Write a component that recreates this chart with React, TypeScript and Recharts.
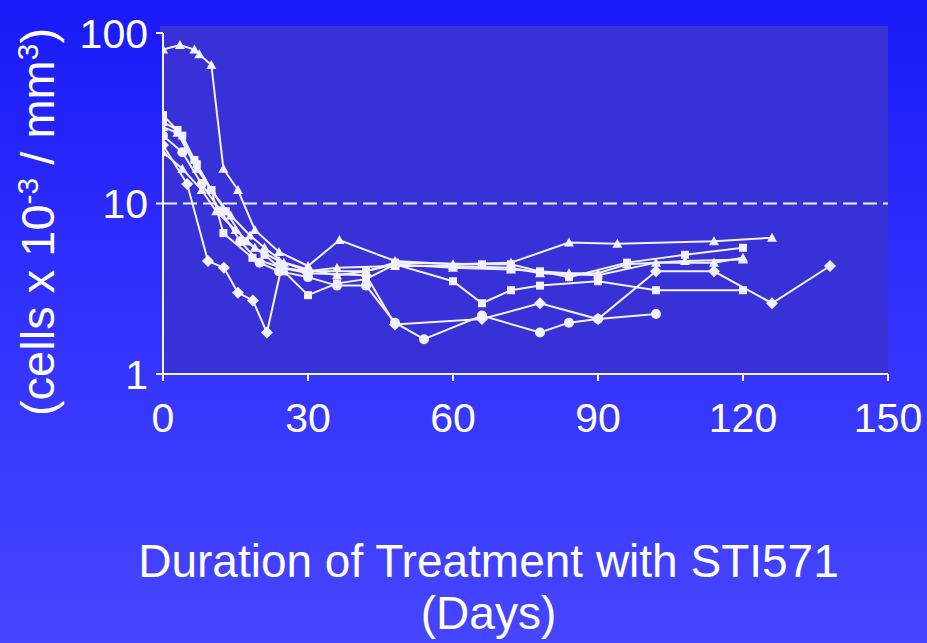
import React from 'react';
import { LineChart, Line, XAxis, YAxis, CartesianGrid, ReferenceLine } from 'recharts';

// [day, cells x 10^-3 / mm3] per patient
const patientA = [[0, 80], [3.5, 85], [6.5, 80], [7.5, 75], [10, 65], [12.5, 16], [15.5, 12], [19, 7], [24, 5.2], [30, 4.3], [36.5, 6.1], [48, 4.6], [60, 4.4], [72, 4.5], [84, 5.9], [94, 5.8], [114, 6], [126, 6.3]];
const patientB = [[0, 33], [4, 25], [6.5, 18], [10, 12], [12.5, 6.7], [18.5, 4.8], [24.5, 4.2], [30, 4.0], [42, 4.0], [48, 4.5], [66, 4.4], [72, 4.4], [78, 4.0], [84, 3.7], [96, 4.5], [108, 5.0], [120, 5.5]];
const patientC = [[0, 28], [3, 26], [7, 16], [10, 12], [14, 8.5], [18, 6.5], [21, 5.5], [25, 4.5], [30, 4.0], [36, 4.2], [48, 4.3], [60, 4.3], [72, 4.2], [78, 3.9], [90, 3.8], [102, 4.5], [114, 4.5], [120, 4.8]];
const patientD = [[0, 22], [5, 13], [9.3, 4.6], [12.6, 4.2], [15.5, 3.0], [18.6, 2.7], [21.5, 1.75], [24.5, 4.2], [30, 3.9], [42, 3.8], [48, 1.95], [66, 2.1], [78, 2.6], [90, 2.1], [102, 4.0], [114, 4.0], [126, 2.6], [138, 4.3]];
const patientE = [[0, 25], [4, 20], [8, 13], [12, 9], [16, 6], [20, 4.5], [24, 4.0], [30, 3.7], [36, 3.3], [42, 3.3], [48, 2.0], [54, 1.6], [66, 2.2], [78, 1.75], [84, 2.0], [90, 2.1], [102, 2.25]];
const patientF = [[0, 30], [3, 27], [7, 17], [10, 12], [13, 9], [17, 6], [21, 5], [25, 4.0], [30, 2.9], [36, 3.4], [42, 3.6], [48, 4.4], [60, 3.5], [66, 2.6], [72, 3.1], [78, 3.3], [90, 3.5], [102, 3.1], [120, 3.1]];
const patientG = [[0, 20], [4, 16], [8, 12], [11, 9], [15, 7], [19, 5.5], [24, 4.6], [30, 4.1], [36, 3.8], [42, 4.0], [48, 4.4], [60, 4.2], [72, 4.1], [84, 3.9], [90, 3.9], [96, 4.4], [108, 4.6], [120, 4.7]];

const xTicks = [0, 30, 60, 90, 120, 150];
const yTicks = [1, 10, 100];
const cutoff = 10;

const toPoints = (arr: number[][]) => arr.map(([day, count]) => ({ day, count }));

const series = [
  { name: 'A', data: patientA, shape: 'triangle' },
  { name: 'B', data: patientB, shape: 'square' },
  { name: 'C', data: patientC, shape: 'triangle' },
  { name: 'D', data: patientD, shape: 'diamond' },
  { name: 'E', data: patientE, shape: 'circle' },
  { name: 'F', data: patientF, shape: 'square' },
  { name: 'G', data: patientG, shape: 'triangle' },
];

const WHITE = '#f2f2ff';

const makeDot = (shape: string) => (props: any) => {
  const { cx, cy, index } = props;
  if (cx == null || cy == null) return <g key={index} />;
  switch (shape) {
    case 'triangle':
      return <polygon key={index} points={`${cx},${cy - 5} ${cx + 5},${cy + 4} ${cx - 5},${cy + 4}`} fill={WHITE} />;
    case 'square':
      return <rect key={index} x={cx - 4} y={cy - 4} width={8} height={8} fill={WHITE} />;
    case 'diamond':
      return <polygon key={index} points={`${cx},${cy - 6} ${cx + 6},${cy} ${cx},${cy + 6} ${cx - 6},${cy}`} fill={WHITE} />;
    default:
      return <circle key={index} cx={cx} cy={cy} r={5} fill={WHITE} />;
  }
};

const font = '"Liberation Sans", Arial, sans-serif';

export default function App() {
  return (
    <div
      style={{
        position: 'fixed',
        left: 0,
        top: 0,
        width: 927,
        height: 643,
        background: 'linear-gradient(180deg, #1a1af8 0%, #3030fc 45%, #4646ff 100%)',
        fontFamily: font,
        overflow: 'hidden',
      }}
    >
      <div style={{ position: 'absolute', left: 160, top: 26, width: 728, height: 10, background: '#3831d8' }} />
      <LineChart width={927} height={643} margin={{ top: 33, right: 39, left: 0, bottom: 0 }} style={{ position: 'absolute', left: 0, top: 0 }}>
        <CartesianGrid fill="#3831d8" horizontal={false} vertical={false} />
        <XAxis
          type="number"
          dataKey="day"
          domain={[0, 150]}
          ticks={xTicks}
          height={269}
          stroke={WHITE}
          strokeWidth={2}
          tickSize={7}
          tickMargin={22}
          tick={{ fill: '#ffffff', fontSize: 41, fontFamily: font }}
          allowDataOverflow
        />
        <YAxis
          type="number"
          dataKey="count"
          scale="log"
          domain={[1, 100]}
          ticks={yTicks}
          width={163}
          stroke={WHITE}
          strokeWidth={2}
          tickSize={7}
          tickMargin={8}
          tick={{ fill: '#ffffff', fontSize: 41, fontFamily: font }}
          allowDataOverflow
        />
        <ReferenceLine y={cutoff} stroke={WHITE} strokeWidth={2} strokeDasharray="14 6" />
        {series.map(s => (
          <Line
            key={s.name}
            data={toPoints(s.data)}
            dataKey="count"
            type="linear"
            stroke={WHITE}
            strokeWidth={2}
            dot={makeDot(s.shape)}
            activeDot={false}
            isAnimationActive={false}
          />
        ))}
      </LineChart>
      <div
        style={{
          position: 'absolute',
          left: 37,
          top: 222,
          transform: 'translate(-50%, -50%) rotate(-90deg)',
          whiteSpace: 'nowrap',
          color: '#ffffff',
          fontSize: 47,
          lineHeight: 1,
        }}
      >
        (cells x 10<sup style={{ fontSize: 30 }}>-3</sup> / mm<sup style={{ fontSize: 30 }}>3</sup>)
      </div>
      <div
        style={{
          position: 'absolute',
          left: 0,
          width: 977,
          top: 535,
          textAlign: 'center',
          color: '#ffffff',
          fontSize: 46,
          lineHeight: '52px',
        }}
      >
        Duration of Treatment with STI571
        <br />
        (Days)
      </div>
    </div>
  );
}
